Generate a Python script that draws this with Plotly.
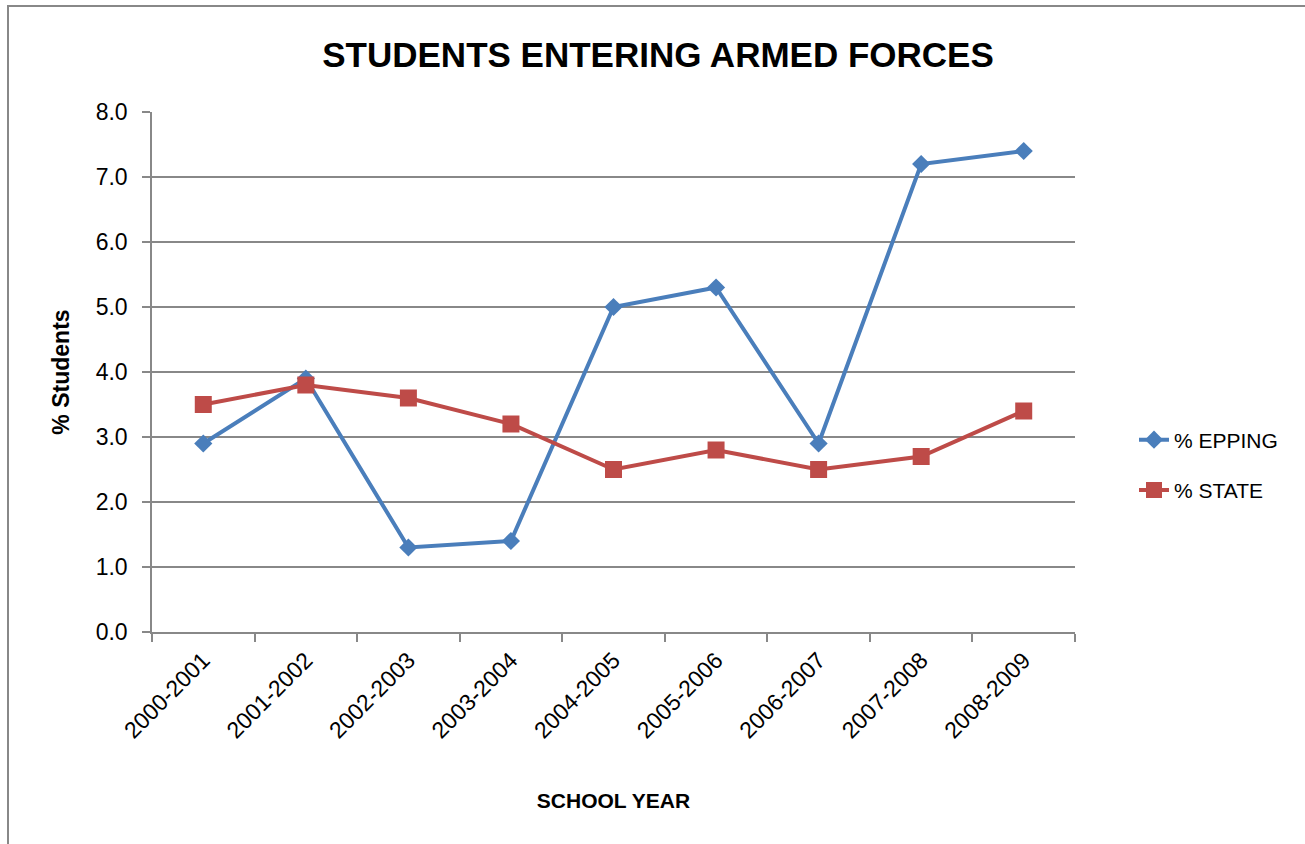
import plotly.graph_objects as go

years = ["2000-2001", "2001-2002", "2002-2003", "2003-2004", "2004-2005",
         "2005-2006", "2006-2007", "2007-2008", "2008-2009"]
epping = [2.9, 3.9, 1.3, 1.4, 5.0, 5.3, 2.9, 7.2, 7.4]
state = [3.5, 3.8, 3.6, 3.2, 2.5, 2.8, 2.5, 2.7, 3.4]
y_ticks = [0, 1, 2, 3, 4, 5, 6, 7, 8]
y_tick_text = [f"{v:.1f}" for v in y_ticks]

W, H = 1305, 844
L, R, T, B = 152, 230, 112, 212
pw, ph = W - L - R, H - T - B

def px_x(p):
    return (p - L) / pw

def px_y(p):
    return (H - B - p) / ph

FONT = "Liberation Sans"

fig = go.Figure()
fig.add_trace(go.Scatter(
    x=years, y=epping, name="% EPPING", mode="lines+markers", legendgroup="a",
    line=dict(color="#4A7EBB", width=4),
    marker=dict(symbol="diamond", size=14, color="#4A7EBB"),
))
fig.add_trace(go.Scatter(
    x=years, y=state, name="% STATE", mode="lines+markers", legendgroup="b",
    line=dict(color="#BE4B48", width=4),
    marker=dict(symbol="square", size=17, color="#BE4B48"),
))

fig.update_layout(
    width=W, height=H,
    margin=dict(l=L, r=R, t=T, b=B),
    paper_bgcolor="white", plot_bgcolor="white",
    font=dict(family=FONT, color="black"),
    title=dict(text="<b>STUDENTS ENTERING ARMED FORCES</b>",
               font=dict(size=35, family=FONT), x=px_x(658), xref="paper",
               xanchor="center", y=1 - 55 / H, yanchor="middle"),
    showlegend=True,
    legend=dict(x=px_x(1134), y=px_y(465), xanchor="left", yanchor="middle",
                font=dict(size=21, family=FONT),
                tracegroupgap=20, bgcolor="rgba(0,0,0,0)"),
    xaxis=dict(
        type="category", range=[-0.5, 8.5], tickson="boundaries",
        ticks="outside", ticklen=8, tickcolor="#888888", tickwidth=1.5,
        showline=True, linecolor="#888888", linewidth=1.5,
        showgrid=False, tickangle=-45, tickfont=dict(size=23, family=FONT),
        ticklabelstandoff=4,
        title=dict(text="<b>SCHOOL YEAR</b>", font=dict(size=21, family=FONT), standoff=51),
    ),
    yaxis=dict(
        range=[0, 8], tickvals=y_ticks, ticktext=y_tick_text,
        ticks="outside", ticklen=8, tickcolor="#888888", tickwidth=1.5,
        showline=True, linecolor="#888888", linewidth=1.5,
        showgrid=True, gridcolor="#888888", gridwidth=1.5,
        zeroline=False, tickfont=dict(size=23, family=FONT),
        ticklabelstandoff=10,
        title=dict(text="<b>% Students</b>", font=dict(size=23, family=FONT), standoff=20),
    ),
    shapes=[dict(type="rect", xref="paper", yref="paper",
                 x0=px_x(8), x1=px_x(1330), y0=px_y(870), y1=px_y(6),
                 line=dict(color="#888888", width=2), fillcolor="rgba(0,0,0,0)",
                 layer="below")],
)

fig.write_html("out.html", config={"displayModeBar": False},
               post_script="document.body.style.margin='0';document.body.style.overflow='hidden';")
